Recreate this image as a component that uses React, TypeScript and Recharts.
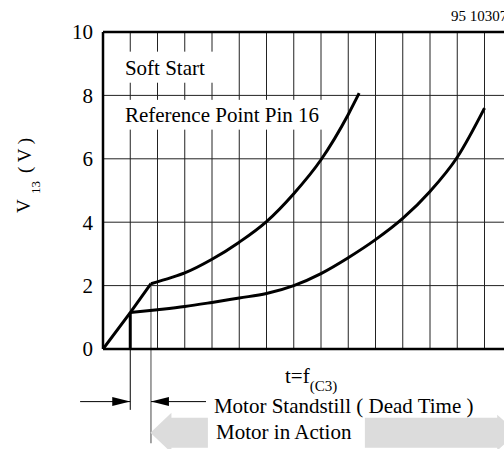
import React from 'react';
import {
  ComposedChart,
  Line,
  XAxis,
  YAxis,
  CartesianGrid,
  ReferenceLine,
  ReferenceArea,
  ReferenceDot,
} from 'recharts';

const FONT = "'Liberation Serif', 'DejaVu Serif', 'Times New Roman', serif";
const TS = { fontFamily: FONT };

// soft-start ramp (common part)
const rampX = [0, 1, 1.76];
const rampY = [0, 1.15, 2.06];
// upper curve
const upperX = [1.76, 2.5, 3, 4, 5, 6, 7, 8, 9, 9.4];
const upperY = [2.06, 2.25, 2.4, 2.83, 3.37, 4.02, 4.9, 5.97, 7.4, 8.07];
// lower curve
const lowerX = [1, 2, 3, 4, 5, 6, 7, 8, 9, 10, 11, 12, 13, 14];
const lowerY = [1.15, 1.24, 1.34, 1.47, 1.61, 1.75, 2.0, 2.38, 2.88, 3.45, 4.12, 4.97, 6.05, 7.6];
// vertical marker at x = 1
const markX = [1, 1];
const markY = [0, 1.15];

const yTicks = [0, 2, 4, 6, 8, 10];
const xGrid = [0, 1, 2, 3, 4, 5, 6, 7, 8, 9, 10, 11, 12, 13, 14, 15, 16];

const toData = (xs: number[], ys: number[]) => xs.map((x, i) => ({ x, y: ys[i] }));
const rampData = toData(rampX, rampY);
const upperData = toData(upperX, upperY);
const lowerData = toData(lowerX, lowerY);
const markData = toData(markX, markY);

const blackArrow = (dir: 'left' | 'right') => (p: any) => {
  const { x1, y1, x2, y2 } = p;
  const L = 18;
  const H = 4.5;
  const tipX = dir === 'right' ? x2 : x1;
  const baseX = dir === 'right' ? x2 - L : x1 + L;
  return (
    <g>
      <line x1={x1} y1={y1} x2={x2} y2={y2} stroke="#000" strokeWidth={1} />
      <polygon points={`${tipX},${y1} ${baseX},${y1 - H} ${baseX},${y1 + H}`} fill="#000" />
    </g>
  );
};

const grayArrowLeft = (p: any) => {
  const { x1, y1, x2 } = p;
  const y = y1;
  const hb = x1 + 21;
  const pts = [
    [x1, y],
    [hb, y - 20],
    [hb, y - 15],
    [x2, y - 15],
    [x2, y + 15],
    [hb, y + 15],
    [hb, y + 20],
  ]
    .map((q) => q.join(','))
    .join(' ');
  return <polygon points={pts} fill="#dcdcdc" />;
};

const grayArrowRight = (p: any) => {
  const { x1, y1, x2 } = p;
  const y = y1;
  const hb = x2 - 20;
  const pts = [
    [x1, y - 15],
    [hb, y - 15],
    [hb, y - 18],
    [x2, y],
    [hb, y + 18],
    [hb, y + 15],
    [x1, y + 15],
  ]
    .map((q) => q.join(','))
    .join(' ');
  return <polygon points={pts} fill="#dcdcdc" />;
};

const textBox = (label: string, dx: number, dy: number) => (p: any) => {
  const { x, y, width, height } = p;
  return (
    <g>
      <rect x={x} y={y} width={width} height={height} fill="#fff" />
      <text x={x + dx} y={y + dy} style={TS} fontFamily={FONT} fontSize={21} fill="#000">
        {label}
      </text>
    </g>
  );
};

const textAt = (label: string, size: number) => (p: any) => (
  <text x={p.cx} y={p.cy} style={TS} fontFamily={FONT} fontSize={size} fill="#000">
    {label}
  </text>
);

const YTick = (p: any) => (
  <text x={p.x} y={p.y} dy="0.35em" textAnchor="end" style={TS} fontFamily={FONT} fontSize={21} fill="#000">
    {p.payload.value}
  </text>
);

const NoTick = () => <g />;

const YTitle = (props: any) => {
  const vb = props.viewBox || { x: 0, y: 32, width: 103, height: 317 };
  const cx = vb.x + 30;
  const y0 = vb.y + 181;
  return (
    <g fill="#000">
      <text x={cx} y={y0} style={TS} fontSize={19} transform={`rotate(-90 ${cx} ${y0})`}>
        V
      </text>
      <text x={cx + 10} y={y0 - 19} style={TS} fontSize={13} transform={`rotate(-90 ${cx + 10} ${y0 - 19})`}>
        13
      </text>
      <text x={cx + 1} y={y0 - 40} style={TS} fontSize={19} transform={`rotate(-90 ${cx + 1} ${y0 - 40})`}>
        ( V )
      </text>
    </g>
  );
};

const XTitle = (props: any) => {
  const vb = props.viewBox || { x: 103, y: 349, width: 436, height: 100 };
  const x = vb.x + 182;
  const y = vb.y + 34;
  return (
    <text x={x} y={y} style={TS} fontSize={21} fill="#000">
      t=f
      <tspan fontSize={15} dy={8}>
        (C3)
      </tspan>
    </text>
  );
};

export default function App() {
  return (
    <div
      style={{
        position: 'absolute',
        left: 0,
        top: 0,
        width: 504,
        height: 449,
        overflow: 'hidden',
        background: '#fff',
        fontFamily: FONT,
      }}
    >
      <ComposedChart
        width={560}
        height={449}
        margin={{ top: 32, right: 21, left: 0, bottom: 0 }}
        style={TS}
      >
        <CartesianGrid stroke="#222" strokeWidth={1} />
        <XAxis
          dataKey="x"
          type="number"
          domain={[0, 16]}
          ticks={xGrid}
          interval={0}
          tick={NoTick}
          tickLine={false}
          axisLine={{ stroke: '#000', strokeWidth: 2.5 }}
          height={100}
          allowDataOverflow
          label={{ content: (p: any) => <XTitle {...p} /> }}
        />
        <YAxis
          type="number"
          domain={[0, 10]}
          ticks={yTicks}
          interval={0}
          width={103}
          tickLine={false}
          tickMargin={4}
          tick={YTick}
          axisLine={{ stroke: '#000', strokeWidth: 2.5 }}
          label={{ content: (p: any) => <YTitle {...p} /> }}
        />
        <ReferenceLine y={10} stroke="#000" strokeWidth={2.5} ifOverflow="visible" />

        <ReferenceArea x1={0.62} x2={4.15} y1={8.4} y2={9.38} ifOverflow="visible" shape={textBox('Soft Start', 5, 23)} />
        <ReferenceArea
          x1={0.62}
          x2={8.3}
          y1={6.92}
          y2={7.86}
          ifOverflow="visible"
          shape={textBox('Reference Point Pin 16', 5, 22)}
        />

        <ReferenceLine
          segment={[
            { x: 1, y: 0 },
            { x: 1, y: -1.92 },
          ]}
          stroke="#000"
          strokeWidth={1}
          ifOverflow="visible"
        />
        <ReferenceLine
          segment={[
            { x: 1.76, y: 2.06 },
            { x: 1.76, y: -2.97 },
          ]}
          stroke="#666"
          strokeWidth={1.2}
          ifOverflow="visible"
        />
        <ReferenceLine
          segment={[
            { x: -0.84, y: -1.66 },
            { x: 1, y: -1.66 },
          ]}
          ifOverflow="visible"
          shape={blackArrow('right')}
        />
        <ReferenceLine
          segment={[
            { x: 1.76, y: -1.66 },
            { x: 3.78, y: -1.66 },
          ]}
          ifOverflow="visible"
          shape={blackArrow('left')}
        />
        <ReferenceLine
          segment={[
            { x: 1.74, y: -2.64 },
            { x: 3.85, y: -2.64 },
          ]}
          ifOverflow="visible"
          shape={grayArrowLeft}
        />
        <ReferenceLine
          segment={[
            { x: 9.61, y: -2.64 },
            { x: 15.2, y: -2.64 },
          ]}
          ifOverflow="visible"
          shape={grayArrowRight}
        />

        <ReferenceDot x={4.07} y={-2.01} r={0} ifOverflow="visible" shape={textAt('Motor Standstill ( Dead Time )', 21)} />
        <ReferenceDot x={4.15} y={-2.83} r={0} ifOverflow="visible" shape={textAt('Motor in Action', 21)} />
        <ReferenceDot x={12.77} y={10.36} r={0} ifOverflow="visible" shape={textAt('95 10307', 15)} />

        <Line data={rampData} dataKey="y" type="linear" stroke="#000" strokeWidth={3} dot={false} isAnimationActive={false} />
        <Line data={upperData} dataKey="y" type="monotone" stroke="#000" strokeWidth={3} dot={false} isAnimationActive={false} />
        <Line data={lowerData} dataKey="y" type="monotone" stroke="#000" strokeWidth={3} dot={false} isAnimationActive={false} />
        <Line data={markData} dataKey="y" type="linear" stroke="#000" strokeWidth={3} dot={false} isAnimationActive={false} />
      </ComposedChart>
    </div>
  );
}
